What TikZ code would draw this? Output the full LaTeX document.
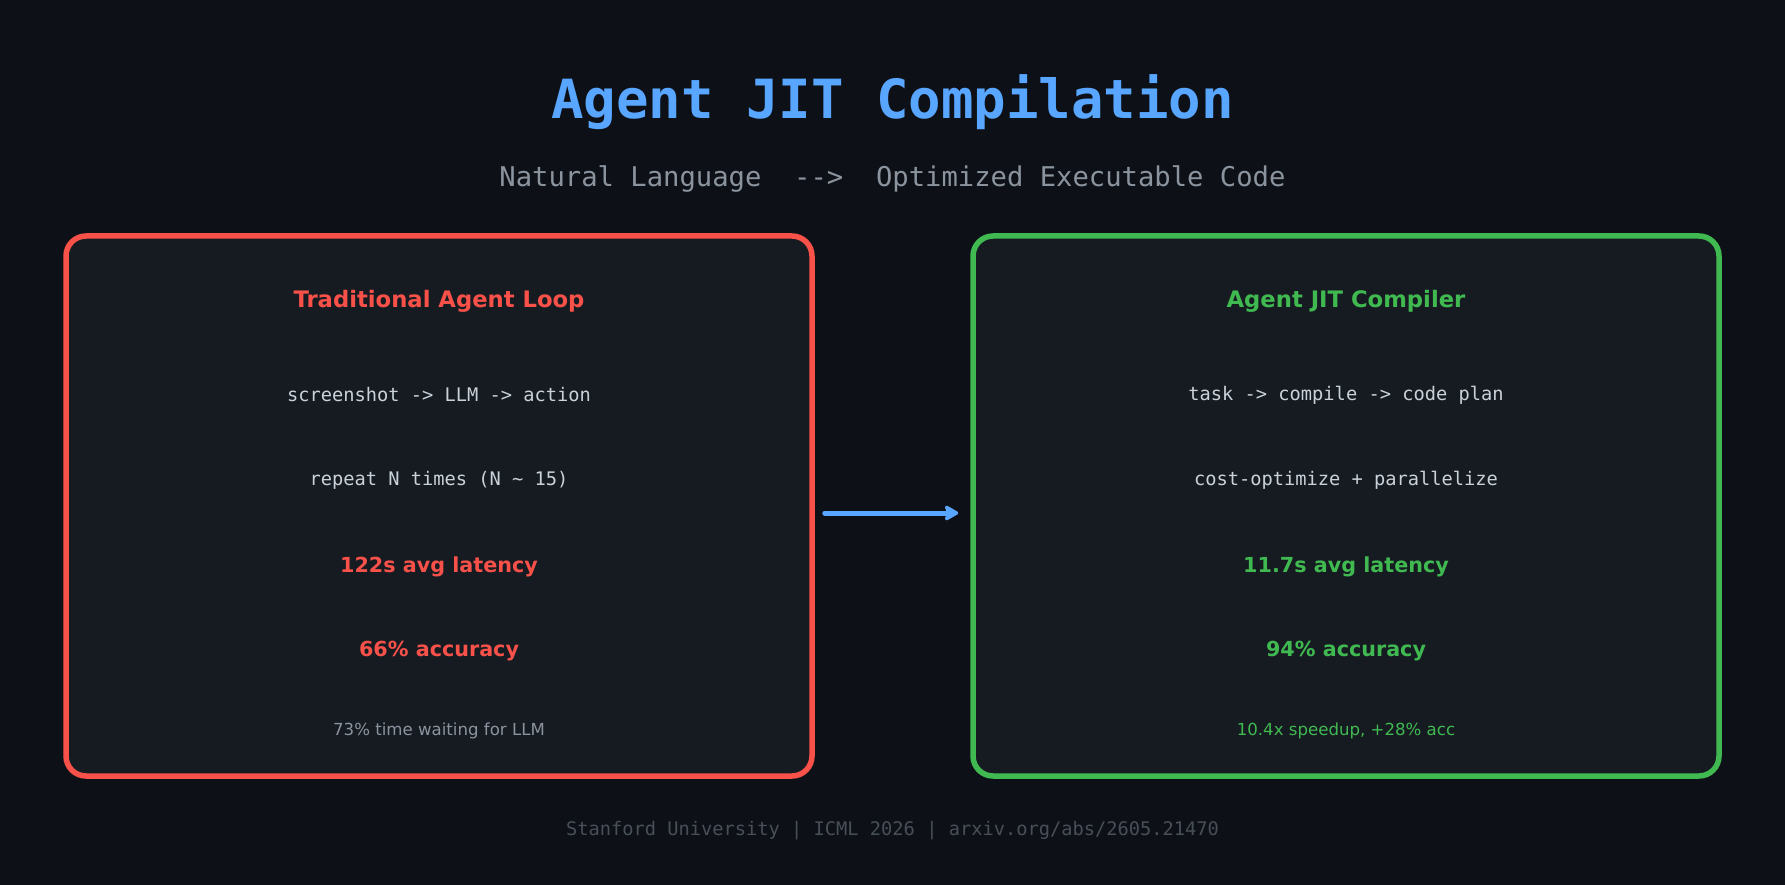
\documentclass[tikz,border=0pt]{standalone}
\usepackage{fontspec}
\setmainfont{DejaVu Sans}
\newfontfamily\codefont{DejaVu Sans Mono}
\usepackage{xcolor}
\usetikzlibrary{arrows.meta, positioning}

\definecolor{bgdark}{HTML}{0D1117}
\definecolor{panelbg}{HTML}{161B22}
\definecolor{oldred}{HTML}{F85149}
\definecolor{jitgreen}{HTML}{3FB950}
\definecolor{jitblue}{HTML}{58A6FF}
\definecolor{dimgrey}{HTML}{8B949E}
\definecolor{codegrey}{HTML}{C9D1D9}
\definecolor{footgrey}{HTML}{484F58}

\tikzset{
  panel/.style={draw, line width=5.5pt, rounded corners=20pt, fill=panelbg,
                minimum width=746pt, minimum height=540pt, inner sep=0pt},
  heading/.style={font=\fontsize{22.7}{26}\selectfont\bfseries},
  codeline/.style={text=codegrey, font=\codefont\fontsize{18.7}{22}\selectfont},
  stat/.style={font=\fontsize{20.7}{24}\selectfont\bfseries},
  note/.style={font=\fontsize{16.6}{20}\selectfont}
}

\begin{document}
\begin{tikzpicture}[x=1pt, y=-1pt]
  \useasboundingbox[fill=bgdark] (0,0) rectangle (1785,885);

  % title block
  \node[text=jitblue, font=\codefont\fontsize{54}{60}\selectfont\bfseries] (title) at (892.5,102.5) {Agent JIT Compilation};
  \node[text=dimgrey, font=\codefont\fontsize{27.2}{32}\selectfont] (subtitle) at (892.5,179.5) {Natural Language\ \ -->\ \ Optimized Executable Code};

  % the two panels
  \node[panel, draw=oldred] (oldbox) at (439,506) {};
  \node[panel, draw=jitgreen] (jitbox) at (1346,506) {};

  % left column
  \node[heading, text=oldred] (oldhead) at (439,301.5) {Traditional Agent Loop};
  \node[codeline] (oldloop) at (439,395) {screenshot -> LLM -> action};
  \node[codeline] (oldrep) at (439,480) {repeat N times (N \~{} 15)};
  \node[stat, text=oldred] (oldlat) at (439,566.5) {122s avg latency};
  \node[stat, text=oldred] (oldacc) at (439,651.5) {66\% accuracy};
  \node[note, text=dimgrey] (oldnote) at (439,731) {73\% time waiting for LLM};

  % right column
  \node[heading, text=jitgreen] (jithead) at (1346,301.5) {Agent JIT Compiler};
  \node[codeline] (jitflow) at (1346,395) {task -> compile -> code plan};
  \node[codeline] (jitopt) at (1346,480) {cost-optimize + parallelize};
  \node[stat, text=jitgreen] (jitlat) at (1346,566.5) {11.7s avg latency};
  \node[stat, text=jitgreen] (jitacc) at (1346,651.5) {94\% accuracy};
  \node[note, text=jitgreen] (jitnote) at (1346,731) {10.4x speedup, +28\% acc};

  \draw[-{Stealth[length=16pt, width=18pt, inset=3pt, round]}, jitblue, line width=5pt, line cap=round,
        shorten <=10pt, shorten >=12pt] (oldbox.east |- 0,513) -- (jitbox.west |- 0,513);

  \node[text=footgrey, font=\codefont\fontsize{18.7}{22}\selectfont] (footer) at (892.5,830.5) {Stanford University | ICML 2026 | arxiv.org/abs/2605.21470};
\end{tikzpicture}
\end{document}
